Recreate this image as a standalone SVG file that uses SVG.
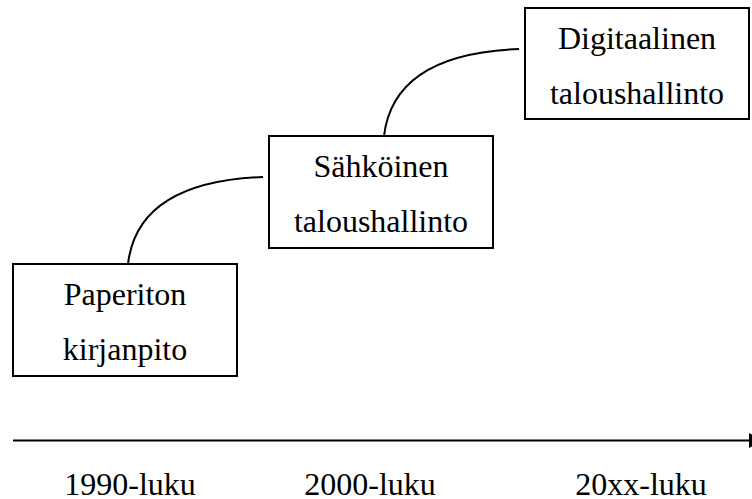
<svg xmlns="http://www.w3.org/2000/svg" width="752" height="499" viewBox="0 0 752 499">
<style>
.box{fill:#fff;stroke:#000;stroke-width:2}
.t{font-family:"Liberation Serif","Times New Roman",serif;font-size:32px;fill:#000;text-anchor:middle}
.c{fill:none;stroke:#000;stroke-width:2}
</style>
<rect width="752" height="499" fill="#fff"/>
<g id="connectors">
<path class="c" d="M128,264 C135,205 185,180 263,177"/>
<path class="c" d="M384,136 C391,77 441,52 519,49"/>
</g>
<g id="axis">
<line x1="13" y1="440.5" x2="750" y2="440.5" stroke="#000" stroke-width="2"/>
<polygon points="749,433 765,440.5 749,448" fill="#000"/>
<text class="t" x="130" y="495">1990-luku</text>
<text class="t" x="370" y="495">2000-luku</text>
<text class="t" x="641" y="495">20xx-luku</text>
</g>
<g id="node-paperiton">
<rect class="box" x="13" y="264" width="224" height="112"/>
<text class="t" x="125" y="305">Paperiton</text>
<text class="t" x="125" y="360">kirjanpito</text>
</g>
<g id="node-sahkoinen">
<rect class="box" x="269" y="136" width="224" height="112"/>
<text class="t" x="381" y="177">Sähköinen</text>
<text class="t" x="381" y="232">taloushallinto</text>
</g>
<g id="node-digitaalinen">
<rect class="box" x="525" y="8" width="224" height="111"/>
<text class="t" x="637" y="49">Digitaalinen</text>
<text class="t" x="637" y="104">taloushallinto</text>
</g>
</svg>
